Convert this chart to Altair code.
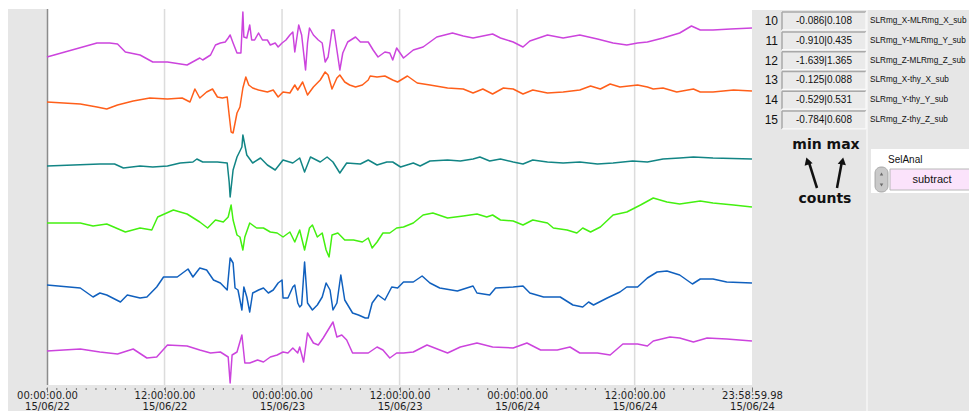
import json
import altair as alt
import pandas as pd

# ---------------- data (hours since 2015-06-22 00:00, trace level in display units) -------------
SERIES = ["SLRmg_X-MLRmg_X_sub", "SLRmg_Y-MLRmg_Y_sub", "SLRmg_Z-MLRmg_Z_sub",
          "SLRmg_X-thy_X_sub", "SLRmg_Y-thy_Y_sub", "SLRmg_Z-thy_Z_sub"]
COLORS = ["#CC44DD", "#FF5F1A", "#128585", "#44F010", "#1060BE", "#CC44DD"]

T1 = [(0.0,328),(5.1,342),(6.4,342),(7.2,341),(8.0,333),(9.5,330),(10.8,323),(12.3,323),(14.3,320),
      (15.6,327),(15.9,325),(16.7,330),(17.2,340),(17.7,342),(18.2,343),(18.5,347),(18.7,350),(19.0,342),
      (19.4,332),(19.8,332),(20.0,373),(20.1,348),(20.4,347),(20.7,360),(20.9,345),(21.2,345),(21.6,352),
      (22.0,345),(22.5,345),(22.8,340),(23.3,342),(23.6,338),(24.0,342),(24.4,345),(24.8,350),(25.1,353),
      (25.3,333),(25.7,360),(26.0,350),(26.4,315),(26.6,342),(26.8,357),(27.2,350),(27.7,345),(28.1,342),
      (28.4,323),(28.7,328),(29.1,355),(29.3,355),(29.6,335),(29.9,315),(30.2,332),(30.7,343),(31.5,348),
      (32.0,343),(32.8,343),(33.3,335),(33.8,328),(34.5,333),(35.0,332),(35.3,325),(35.7,337),
      (36.4,327),(37.4,335),(38.4,338),(39.8,348),(41.4,352),(42.5,349),(43.5,347),
      (45.5,351),(46.3,347),(47.6,343),(48.6,338),(49.3,344),(51.1,350),(52.7,347),(54.4,350),(56.2,346),
      (57.8,342),(59.2,340),(60.3,342),(61.3,343),(62.9,347),(64.6,352),(65.8,359),(66.7,355),(68.0,355),
      (69.8,356),(71.98,357)]
T2 = [(0.0,283),(3.4,281),(5.1,278),(6.1,276),(7.2,280),(8.8,284),(10.5,287),(12.3,286),(13.8,287),
      (14.6,283),(15.1,296),(15.6,287),(16.3,293),(16.9,296),(17.4,288),(17.9,287),(18.4,288),(18.6,270),
      (18.8,253),(19.0,252),(19.4,272),(19.7,278),(20.0,297),(20.3,308),(20.6,300),(21.0,297),(21.6,295),
      (22.5,293),(23.1,295),(23.6,288),(24.1,293),(24.8,292),(25.3,300),(25.6,295),(26.1,303),(26.6,290),
      (27.2,298),(27.9,305),(28.4,313),(28.7,310),(29.1,296),(29.6,307),(29.9,310),(30.4,303),(30.9,300),
      (31.5,298),(32.2,300),(32.8,305),(33.0,309),(33.7,308),(34.5,309),(35.3,305),(35.8,303),
      (36.8,309),(37.8,302),(39.1,300),(40.9,297),(42.5,296),
      (43.5,292),(44.5,296),(45.5,291),(46.6,297),(47.6,296),(48.6,291),(49.6,295),(51.1,292),(52.7,293),
      (54.4,295),(55.5,299),(56.5,296),(57.5,301),(58.5,298),(60.3,300),(61.3,298),(61.9,296),(62.9,297),
      (64.3,293),(66.0,296),(66.7,293),(68.0,293),(70.1,295),(71.98,294)]
T3 = [(0.0,219),(5.4,221),(6.9,221),(7.8,217),(9.5,219),(10.8,218),(12.3,219),(13.6,222),(14.9,223),
      (15.3,226),(15.9,223),(17.4,223),(18.4,222),(18.6,203),(18.7,188),(19.0,215),(19.4,228),(19.9,238),
      (20.0,250),(20.4,230),(21.0,222),(21.8,227),(22.5,220),(23.3,215),(24.1,225),(25.1,222),(25.8,227),
      (26.3,213),(26.9,228),(27.9,223),(28.6,228),(29.2,223),(29.9,212),(30.6,222),(32.0,221),(32.8,225),
      (33.7,220),(34.7,223),(35.3,223),(36.1,218),(37.4,222),(38.1,219),(39.1,224),(40.9,225),(42.2,224),
      (43.5,226),(44.2,228),(45.2,224),(46.3,226),(47.6,223),(48.6,221),(49.6,225),(51.1,223),(52.7,222),
      (54.4,223),(56.2,221),(57.8,222),(59.8,224),(61.3,223),(62.9,226),(64.6,227),(66.0,228),(68.0,227),
      (71.98,226)]
T4 = [(0.0,162),(3.4,162),(4.7,159),(6.1,161),(8.0,153),(9.5,157),(10.7,155),(11.3,168),(12.9,175),
      (14.3,171),(15.6,163),(16.4,157),(17.2,165),(18.0,163),(18.5,168),(18.8,180),(19.0,165),(19.4,150),
      (19.7,148),(20.0,135),(20.2,148),(20.7,162),(21.4,157),(22.1,157),(22.8,153),(23.5,152),(24.1,148),
      (24.8,153),(25.3,143),(25.8,155),(26.3,135),(26.8,157),(27.1,160),(27.6,148),(28.1,152),(28.5,135),
      (28.8,128),(29.1,150),(29.7,152),(30.4,145),(31.3,145),(32.2,143),(32.8,147),(33.2,137),(33.7,143),
      (34.3,152),(35.0,152),(35.7,157),(36.4,158),(37.4,162),
      (38.4,170),(39.4,172),(40.9,167),(42.5,169),(43.9,171),(44.9,168),(45.5,170),(46.3,165),(47.6,164),
      (48.6,160),(49.6,165),(51.1,162),(51.7,157),(53.1,155),(54.1,152),(54.7,157),(55.5,153),(56.5,158),
      (57.8,170),(59.2,173),(60.6,180),(61.9,187),(63.3,183),(64.6,181),(66.7,184),(68.0,182),(70.1,180),
      (71.98,178)]
T5 = [(0.0,100),(3.4,97),(4.7,88),(5.4,92),(6.1,90),(7.5,83),(8.2,90),(9.5,87),(10.2,88),(11.2,98),
      (11.9,108),(13.3,108),(14.4,116),(14.9,108),(15.6,117),(16.3,115),(17.0,105),(17.7,102),(18.4,95),
      (18.7,127),(19.0,122),(19.2,97),(19.5,95),(19.9,75),(20.1,98),(20.4,88),(20.7,73),(21.0,92),
      (21.6,95),(22.1,97),(22.6,92),(23.1,95),(23.6,102),(24.0,105),(24.1,87),(24.6,87),(25.1,98),
      (25.3,100),(25.6,82),(25.8,78),(26.0,80),(26.3,123),(26.6,82),(27.1,75),(27.6,80),(28.1,88),
      (28.5,102),(28.9,95),(29.2,75),(29.6,82),(30.0,110),(30.4,85),(31.2,72),(31.8,70),(32.5,67),
      (32.8,67),(33.2,82),(33.8,90),(34.5,85),(35.2,98),(35.8,97),
      (36.4,103),(37.4,103),(38.3,109),(39.1,102),(40.1,97),(41.9,94),(43.5,99),(43.9,92),(45.2,90),
      (45.8,97),(47.6,98),(48.6,99),(49.3,92),(50.7,88),(52.4,88),(53.7,80),(54.7,78),(55.3,83),(55.8,80),
      (57.2,87),(58.5,93),(59.2,98),(60.3,98),(61.3,107),(62.3,113),(63.3,114),(64.6,110),(65.9,101),
      (66.7,106),(68.0,106),(69.4,103),(71.98,102)]
T6 = [(0.0,34),(3.4,36),(5.4,33),(7.2,31),(8.8,36),(10.2,27),(11.2,28),(12.3,40),(14.3,39),(15.6,35),
      (16.7,32),(17.7,33),(18.5,28),(18.7,2),(18.9,30),(19.4,33),(19.9,50),(20.2,22),(20.7,22),(21.5,25),
      (22.1,23),(22.8,28),(23.5,30),(24.1,33),(24.6,32),(25.1,37),(25.6,32),(25.8,38),(26.2,23),(26.6,52),
      (27.2,42),(27.7,40),(28.2,47),(28.7,55),(29.2,63),(29.6,48),(30.1,50),(30.6,45),(31.2,32),(32.0,32),
      (32.8,32),(33.7,38),(34.3,35),(35.0,27),(35.7,32),(36.4,32),(37.4,33),(38.8,40),
      (40.9,32),(42.2,38),(43.9,42),(45.5,38),(47.6,37),(49.0,42),(50.4,35),(52.1,35),(53.4,38),(54.4,32),
      (56.2,32),(57.5,30),(58.8,41),(60.3,41),(61.3,39),(61.9,44),(63.6,48),(64.6,47),(66.0,43),(67.4,47),
      (69.4,46),(71.98,44)]
TRACES = [T1, T2, T3, T4, T5, T6]

TICK_HOURS = [0, 12, 24, 36, 48, 60, 71.983]
TICK_TIMES = ["00:00:00.00", "12:00:00.00", "00:00:00.00", "12:00:00.00",
              "00:00:00.00", "12:00:00.00", "23:58:59.98"]
TICK_DATES = ["15/06/22", "15/06/22", "15/06/23", "15/06/23", "15/06/24", "15/06/24", "15/06/24"]
GRID_HOURS = [12, 24, 36, 48, 60]
MINOR_HOURS = list(range(0, 72))

LEGEND_ROWS = [10, 11, 12, 13, 14, 15]
LEGEND_RANGES = ["-0.086|0.108", "-0.910|0.435", "-1.639|1.365",
                 "-0.125|0.088", "-0.529|0.531", "-0.784|0.608"]
LEGEND_NAMES = ["SLRmg_X-MLRmg_X_sub", "SLRmg_Y-MLRmg_Y_sub", "SLRmg_Z-MLRmg_Z_sub",
                "SLRmg_X-thy_X_sub", "SLRmg_Y-thy_Y_sub", "SLRmg_Z-thy_Z_sub"]

# ---------------- tables ----------------
rows = []
for name, tr in zip(SERIES, TRACES):
    for h, v in tr:
        rows.append({"series": name, "h": h, "v": v})
traces_df = pd.DataFrame(rows)
legend_df = pd.DataFrame({"row": LEGEND_ROWS, "range": LEGEND_RANGES, "name": LEGEND_NAMES})
legend_df["top"] = legend_df["row"] - 0.45
legend_df["bot"] = legend_df["row"] + 0.45
DUMMY = pd.DataFrame({"k": [0]})

W, H = 705, 376
RIGHT = 922      # right edge of the drawing (chart coordinates)
BOTTOM = 402     # bottom edge of the drawing (chart coordinates)
GRAY = "#E6E6E6"

label_pairs = [[t, d] for t, d in zip(TICK_TIMES, TICK_DATES)]
label_expr = f"{json.dumps(label_pairs)}[indexof({json.dumps(TICK_HOURS)}, datum.value)]"

x_enc = alt.X("h:Q", scale=alt.Scale(domain=[0, 71.983], nice=False, zero=False),
              axis=alt.Axis(values=TICK_HOURS, labelExpr=label_expr, title=None, grid=False,
                            domain=False, ticks=True, tickSize=5, tickColor="#7a7a7a", tickWidth=1,
                            offset=2, labelFont="DejaVu Sans", labelFontSize=10, labelColor="#1e1e1e",
                            labelBaseline="alphabetic", labelLineHeight=11.5, labelPadding=6,
                            labelOverlap=False, labelFlush=False,
                            labelBound=False, labelAlign="center", zindex=1))


def rect(x, x2, y, y2, fill, **kw):
    return alt.Chart(DUMMY).mark_rect(fill=fill, **kw).encode(
        x=alt.value(x), x2=alt.value(x2), y=alt.value(y), y2=alt.value(y2))


def seg(x, y, x2, y2, color, width):
    return alt.Chart(DUMMY).mark_rule(color=color, strokeWidth=width).encode(
        x=alt.value(x), y=alt.value(y), x2=alt.value(x2), y2=alt.value(y2))


def label(x, y, s, **kw):
    return alt.Chart(DUMMY).mark_text(text=s, baseline="middle", **kw).encode(
        x=alt.value(x), y=alt.value(y))


# ---------------- layers ----------------
bg = [
    rect(-39, 0, 0, H, GRAY),                 # left strip
    rect(-39, RIGHT, H, BOTTOM, GRAY),        # bottom band
    rect(W, RIGHT, 1, BOTTOM, GRAY),          # right panel
    seg(820, 1, 820, BOTTOM, "#F6F6F6", 1.5),
]

grid = alt.Chart(pd.DataFrame({"h": GRID_HOURS})).mark_rule(color="#DCDCDC", strokeWidth=1.5).encode(
    x=x_enc, y=alt.value(0), y2=alt.value(H))
minor = alt.Chart(pd.DataFrame({"h": MINOR_HOURS})).mark_rule(color="#7a7a7a", strokeWidth=1).encode(
    x=x_enc, y=alt.value(H + 3), y2=alt.value(H + 5))
border = seg(0.5, 0, 0.5, H, "#8C8C8C", 1.5)

lines = alt.Chart(traces_df).mark_line(strokeWidth=1.5, strokeJoin="round").encode(
    x=x_enc,
    y=alt.Y("v:Q", scale=alt.Scale(domain=[0, H], nice=False, zero=False), axis=None),
    color=alt.Color("series:N", scale=alt.Scale(domain=SERIES, range=COLORS), legend=None),
    detail="series:N",
)

ly = alt.Scale(domain=[10, 15], range=[12, 111])
lg = alt.Chart(legend_df)
boxes = lg.mark_rect(fill="#EAEAEA").encode(
    x=alt.value(735), x2=alt.value(819), y=alt.Y("top:Q", scale=ly, axis=None), y2="bot:Q")
box_top = lg.mark_rule(color="#A8A8A8", strokeWidth=1.5).encode(
    x=alt.value(735), x2=alt.value(819), y=alt.Y("top:Q", scale=ly, axis=None))
box_left = lg.mark_rule(color="#A8A8A8", strokeWidth=1.5).encode(
    x=alt.value(735), y=alt.Y("top:Q", scale=ly, axis=None), y2="bot:Q")
box_bot = lg.mark_rule(color="#FAFAFA", strokeWidth=1.2).encode(
    x=alt.value(735), x2=alt.value(819), y=alt.Y("bot:Q", scale=ly, axis=None))
box_right = lg.mark_rule(color="#FAFAFA", strokeWidth=1.2).encode(
    x=alt.value(819), y=alt.Y("top:Q", scale=ly, axis=None), y2="bot:Q")
nums = lg.mark_text(align="right", baseline="middle", font="Liberation Sans", fontSize=12,
                    color="#111").encode(
    x=alt.value(731), y=alt.Y("row:Q", scale=ly, axis=None), text="row:N")
rngs = lg.mark_text(align="center", baseline="middle", font="Liberation Sans", fontSize=10,
                    color="#111").encode(
    x=alt.value(777), y=alt.Y("row:Q", scale=ly, axis=None), text="range:N")
names = lg.mark_text(align="left", baseline="middle", font="Liberation Sans", fontSize=8.2,
                     color="#111").encode(
    x=alt.value(823), y=alt.Y("row:Q", scale=ly, axis=None), text="name:N")

annot = [
    label(779, 136, "min max", font="DejaVu Sans", fontSize=14, fontWeight="bold", color="#111"),
    label(778, 190, "counts", font="DejaVu Sans", fontSize=14, fontWeight="bold", color="#111"),
    seg(770, 179, 761.5, 152, "#111", 2.5),
    seg(790, 179, 795, 152, "#111", 2.5),
    alt.Chart(DUMMY).mark_point(shape="triangle-up", filled=True, size=70, color="#111",
                                angle=342, opacity=1).encode(x=alt.value(760.5), y=alt.value(152)),
    alt.Chart(DUMMY).mark_point(shape="triangle-up", filled=True, size=70, color="#111",
                                angle=11, opacity=1).encode(x=alt.value(795.5), y=alt.value(152)),
    rect(824, RIGHT, 140, 184, "#FFFFFF"),
    label(841, 151, "SelAnal", align="left", font="Liberation Sans", fontSize=10, color="#111"),
    alt.Chart(DUMMY).mark_rect(fill="#C9C9C9", stroke="#9a9a9a", strokeWidth=0.8, cornerRadius=6).encode(
        x=alt.value(828), x2=alt.value(841), y=alt.value(158), y2=alt.value(183)),
    alt.Chart(DUMMY).mark_point(shape="triangle-up", filled=True, size=12, color="#6a6a6a",
                                opacity=1).encode(x=alt.value(834.5), y=alt.value(165)),
    alt.Chart(DUMMY).mark_point(shape="triangle-down", filled=True, size=12, color="#6a6a6a",
                                opacity=1).encode(x=alt.value(834.5), y=alt.value(176)),
    rect(843, RIGHT + 2, 160, 181, "#FBE3FB", stroke="#B8B8B8", strokeWidth=1),
    label(885, 170.5, "subtract", align="center", font="Liberation Sans", fontSize=11, color="#111"),
]

chart = alt.layer(
    *bg, grid, border, minor, lines,
    boxes, box_top, box_left, box_bot, box_right, nums, rngs, names,
    *annot,
).resolve_scale(y="independent").properties(
    width=W, height=H,
    padding={"left": 39, "top": 1, "right": RIGHT - W, "bottom": BOTTOM - H},
    autosize=alt.AutoSizeParams(type="none"),
    background="white",
).configure_view(strokeWidth=0)

chart.save("out.html", embed_options={"renderer": "svg", "actions": False})
